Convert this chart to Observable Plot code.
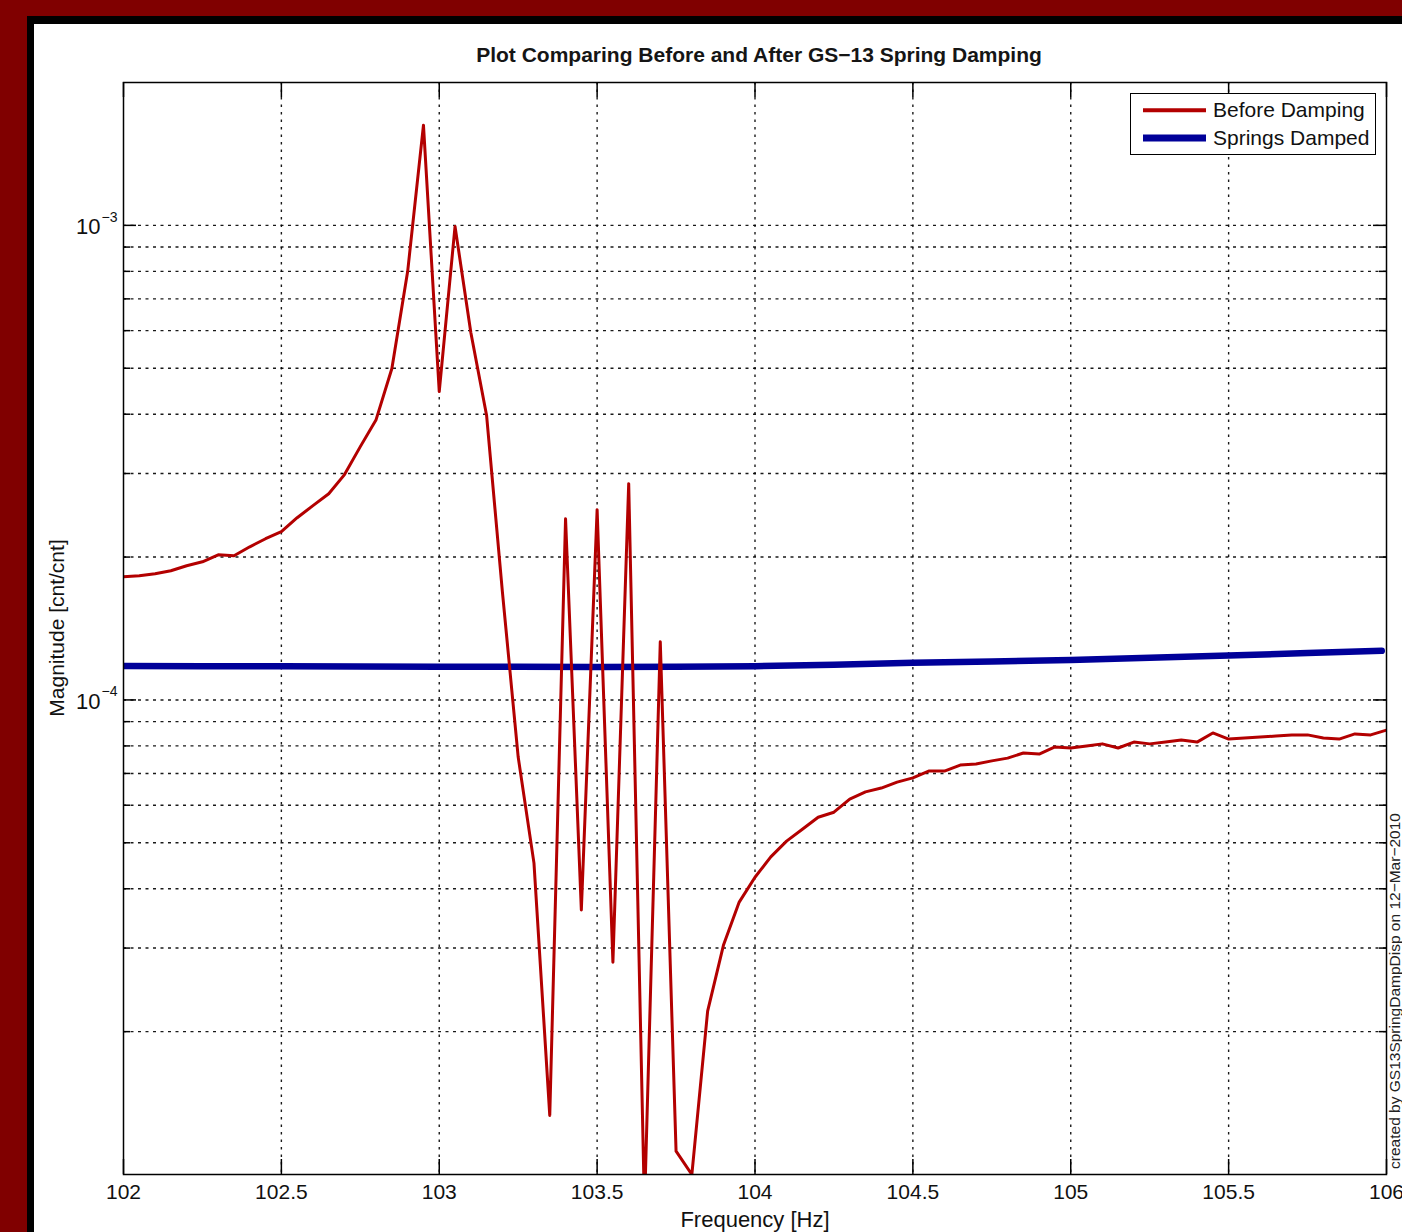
<!DOCTYPE html>
<html>
<head>
<meta charset="utf-8">
<script src="https://cdn.jsdelivr.net/npm/d3@7"></script>
<script src="https://cdn.jsdelivr.net/npm/@observablehq/plot@0.6"></script>
<style>
  html, body { margin: 0; padding: 0; }
  body {
    width: 1402px; height: 1232px; background: #800000; position: relative; overflow: hidden;
    font-family: "Liberation Sans", Arial, sans-serif; color: #111;
  }
  #paper {
    position: absolute; left: 27px; top: 16px; width: 1375px; height: 1216px; box-sizing: border-box;
    border-left: 7px solid #000; border-top: 8px solid #000; background: #fff;
  }
  #chart { position: absolute; left: 0; top: 0; }
  #title {
    position: absolute; left: 409px; top: 43px; width: 700px; text-align: center;
    font-size: 21px; font-weight: bold; color: #151515; white-space: nowrap;
  }
  #ylabel {
    position: absolute; left: 57px; top: 628px; transform: translate(-50%, -50%) rotate(-90deg);
    font-size: 21px; white-space: nowrap; color: #111;
  }
  #xlabel {
    position: absolute; left: 755px; top: 1220px; transform: translate(-50%, -50%);
    font-size: 22px; white-space: nowrap; color: #111;
  }
  #caption {
    position: absolute; left: 1395px; top: 991px; transform: translate(-50%, -50%) rotate(-90deg);
    font-size: 15.5px; white-space: nowrap; color: #222;
  }
  #legend {
    position: absolute; left: 1130px; top: 93px; width: 246px; height: 62px; box-sizing: border-box;
    border: 1.5px solid #000; background: #fff;
  }
  .lg-row { position: absolute; left: 0; height: 28px; width: 100%; }
  .lg-swatch { position: absolute; left: 12px; width: 63px; top: 50%; transform: translateY(-50%); }
  .lg-text { position: absolute; left: 82px; top: 50%; transform: translateY(-50%); font-size: 21px; white-space: nowrap; color: #111; }
</style>
</head>
<body>
<div id="paper"></div>
<div id="chart"></div>
<div id="title">Plot Comparing Before and After GS−13 Spring Damping</div>
<div id="ylabel">Magnitude [cnt/cnt]</div>
<div id="xlabel">Frequency [Hz]</div>
<div id="caption">created by  GS13SpringDampDisp on 12−Mar−2010</div>
<div id="legend"></div>
<script>
// ---- Data ----
const seriesNames = ["Before Damping", "Springs Damped"];
const seriesColors = ["#b30000", "#000099"];

const beforeFreq = [
  102.00, 102.05, 102.10, 102.15, 102.20, 102.25, 102.30, 102.35, 102.40, 102.45,
  102.50, 102.55, 102.60, 102.65, 102.70, 102.75, 102.80, 102.85, 102.90, 102.95,
  103.00, 103.05, 103.10, 103.15, 103.20, 103.25, 103.30, 103.35, 103.40, 103.45,
  103.50, 103.55, 103.60, 103.65, 103.70, 103.75, 103.80, 103.85, 103.90, 103.95,
  104.00, 104.05, 104.10, 104.15, 104.20, 104.25, 104.30, 104.35, 104.40, 104.45,
  104.50, 104.55, 104.60, 104.65, 104.70, 104.75, 104.80, 104.85, 104.90, 104.95,
  105.00, 105.05, 105.10, 105.15, 105.20, 105.25, 105.30, 105.35, 105.40, 105.45,
  105.50, 105.55, 105.60, 105.65, 105.70, 105.75, 105.80, 105.85, 105.90, 105.95,
  106.00
];
const beforeMag = [
  1.818e-4, 1.827e-4, 1.845e-4, 1.872e-4, 1.918e-4, 1.955e-4, 2.022e-4, 2.013e-4, 2.102e-4, 2.186e-4,
  2.262e-4, 2.421e-4, 2.567e-4, 2.720e-4, 2.984e-4, 3.418e-4, 3.896e-4, 4.992e-4, 8.0e-4, 1.626e-3,
  4.464e-4, 9.95e-4, 5.947e-4, 3.974e-4, 1.690e-4, 7.58e-5, 4.53e-5, 1.332e-5, 2.409e-4, 3.61e-5,
  2.517e-4, 2.80e-5, 2.856e-4, 8.5e-6, 1.326e-4, 1.12e-5, 1.0e-5, 2.21e-5, 3.04e-5, 3.75e-5,
  4.23e-5, 4.67e-5, 5.04e-5, 5.34e-5, 5.66e-5, 5.80e-5, 6.18e-5, 6.40e-5, 6.52e-5, 6.71e-5,
  6.85e-5, 7.08e-5, 7.08e-5, 7.29e-5, 7.33e-5, 7.44e-5, 7.54e-5, 7.73e-5, 7.69e-5, 7.96e-5,
  7.92e-5, 8.00e-5, 8.08e-5, 7.92e-5, 8.15e-5, 8.08e-5, 8.15e-5, 8.23e-5, 8.15e-5, 8.52e-5,
  8.27e-5, 8.31e-5, 8.35e-5, 8.39e-5, 8.44e-5, 8.44e-5, 8.31e-5, 8.27e-5, 8.48e-5, 8.44e-5,
  8.64e-5
];

const dampedFreq = [102.00, 102.25, 102.50, 102.75, 103.00, 103.25, 103.50, 103.75, 104.00,
  104.25, 104.50, 104.75, 105.00, 105.25, 105.50, 105.75, 105.985];
const dampedMag = [1.179e-4, 1.178e-4, 1.177e-4, 1.176e-4, 1.175e-4, 1.174e-4, 1.173e-4, 1.174e-4, 1.178e-4,
  1.186e-4, 1.197e-4, 1.205e-4, 1.214e-4, 1.227e-4, 1.241e-4, 1.255e-4, 1.269e-4];

const xTicks = [102, 102.5, 103, 103.5, 104, 104.5, 105, 105.5, 106];
const xGrid = [102.5, 103, 103.5, 104, 104.5, 105, 105.5];
const yMajor = [1e-4, 1e-3];
const yMajorExp = ["−4", "−3"];
const yMinor = [2e-5, 3e-5, 4e-5, 5e-5, 6e-5, 7e-5, 8e-5, 9e-5,
  2e-4, 3e-4, 4e-4, 5e-4, 6e-4, 7e-4, 8e-4, 9e-4];
const yGrid = [2e-5, 3e-5, 4e-5, 5e-5, 6e-5, 7e-5, 8e-5, 9e-5, 1e-4,
  2e-4, 3e-4, 4e-4, 5e-4, 6e-4, 7e-4, 8e-4, 9e-4, 1e-3];
const xDomain = [102, 106];
const yDomain = [1e-5, 2e-3];

// ---- Build tables ----
const before = beforeFreq.map((f, i) => ({f, m: beforeMag[i]}));
const damped = dampedFreq.map((f, i) => ({f, m: dampedMag[i]}));
const yLabels = yMajor.map((v, i) => ({v, e: yMajorExp[i]}));

const W = 1402, H = 1232;
const mL = 123, mR = 16, mT = 82, mB = 58;
const fw = W - mL - mR, fh = H - mT - mB;
const font = '"Liberation Sans", Arial, sans-serif';

const chart = Plot.plot({
  width: W, height: H,
  marginLeft: mL, marginRight: mR, marginTop: mT, marginBottom: mB,
  style: {background: "transparent", fontFamily: font, color: "#111"},
  x: {domain: xDomain, axis: null},
  y: {type: "log", domain: yDomain, axis: null},
  marks: [
    Plot.gridX(xGrid, {stroke: "#000", strokeOpacity: 0.9, strokeWidth: 1.4, strokeDasharray: "2.5,5"}),
    Plot.gridY(yGrid, {stroke: "#000", strokeOpacity: 0.9, strokeWidth: 1.4, strokeDasharray: "3,4.5"}),
    // x ticks (inward, bottom and top)
    Plot.tickX(xTicks, {x: d => d, insetTop: fh - 15, stroke: "#000", strokeWidth: 1.5}),
    Plot.tickX(xTicks, {x: d => d, insetBottom: fh - 15, stroke: "#000", strokeWidth: 1.5}),
    // y ticks (inward, left and right)
    Plot.tickY(yMajor, {y: d => d, insetRight: fw - 13, stroke: "#000", strokeWidth: 1.5}),
    Plot.tickY(yMajor, {y: d => d, insetLeft: fw - 13, stroke: "#000", strokeWidth: 1.5}),
    Plot.tickY(yMinor, {y: d => d, insetRight: fw - 7, stroke: "#000", strokeWidth: 1.5}),
    Plot.tickY(yMinor, {y: d => d, insetLeft: fw - 7, stroke: "#000", strokeWidth: 1.5}),
    Plot.axisX({ticks: xTicks, tickSize: 0, tickPadding: 10, fontSize: 21, tickFormat: d => String(d), label: null, fill: "#111"}),
    Plot.text(yLabels, {y: "v", frameAnchor: "left", dx: -23, dy: 2, text: () => "10", textAnchor: "end", fontSize: 22, fill: "#111"}),
    Plot.text(yLabels, {y: "v", frameAnchor: "left", dx: -22, dy: -8, text: "e", textAnchor: "start", fontSize: 14, fill: "#111"}),
    Plot.line(damped, {x: "f", y: "m", stroke: seriesColors[1], strokeWidth: 6.5, clip: true}),
    Plot.line(before, {x: "f", y: "m", stroke: seriesColors[0], strokeWidth: 3, clip: true}),
    Plot.frame({stroke: "#000", strokeWidth: 1.5})
  ]
});
document.getElementById("chart").appendChild(chart);

// ---- Legend ----
const legend = document.getElementById("legend");
seriesNames.forEach((name, i) => {
  const row = document.createElement("div");
  row.className = "lg-row";
  row.style.top = (i === 0 ? 2 : 30) + "px";
  const sw = document.createElement("div");
  sw.className = "lg-swatch";
  sw.style.background = seriesColors[i];
  sw.style.height = (i === 0 ? 3.5 : 7) + "px";
  const tx = document.createElement("div");
  tx.className = "lg-text";
  tx.textContent = name;
  row.appendChild(sw);
  row.appendChild(tx);
  legend.appendChild(row);
});
</script>
</body>
</html>
